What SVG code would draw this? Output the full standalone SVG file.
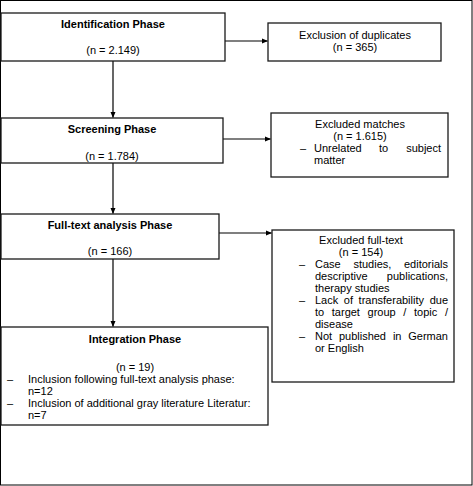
<svg xmlns="http://www.w3.org/2000/svg" width="473" height="486" viewBox="0 0 473 486">
<defs>
<marker id="ah" markerWidth="6" markerHeight="6" refX="5.5" refY="3" orient="auto" markerUnits="userSpaceOnUse">
<path d="M0,0.5 L6,3 L0,5.5 Z" fill="#000"/>
</marker>
<style>
.box{fill:#fff;stroke:#1a1a1a;stroke-width:1.3}
.t{font-family:"Liberation Sans",Arial,sans-serif;font-size:11px;fill:#000}
.b{font-weight:bold}
.c{text-anchor:middle}
.e{text-anchor:end}
.con{stroke:#000;stroke-width:1.2;fill:none;marker-end:url(#ah)}
</style>
</defs>
<rect x="0.5" y="0.5" width="471.5" height="484.5" fill="#fff" stroke="#000" stroke-width="1"/>
<g id="connectors">
<line class="con" x1="113" y1="61" x2="113" y2="117.5"/>
<line class="con" x1="113" y1="163" x2="113" y2="213.5"/>
<line class="con" x1="113" y1="259" x2="113" y2="326.5"/>
<line class="con" x1="225" y1="41" x2="267.5" y2="41"/>
<line class="con" x1="223" y1="139" x2="270.5" y2="139"/>
<line class="con" x1="219" y1="233" x2="271.5" y2="233"/>
</g>
<g id="identification">
<rect class="box" x="1" y="13" width="224" height="48"/>
<text class="t b c" x="113" y="28">Identification Phase</text>
<text class="t c" x="113" y="54">(n = 2.149)</text>
</g>
<g id="duplicates">
<rect class="box" x="268" y="23" width="173" height="38"/>
<text class="t c" x="355" y="39">Exclusion of duplicates</text>
<text class="t c" x="355" y="51">(n = 365)</text>
</g>
<g id="screening">
<rect class="box" x="1" y="118" width="222" height="45"/>
<text class="t b c" x="112" y="133">Screening Phase</text>
<text class="t c" x="112" y="160">(n = 1.784)</text>
</g>
<g id="excluded-matches">
<rect class="box" x="271" y="113" width="177" height="64"/>
<text class="t c" x="360" y="128">Excluded matches</text>
<text class="t c" x="360" y="140">(n = 1.615)</text>
<text class="t" x="300" y="152">–</text>
<text class="t" x="314" y="152">Unrelated</text>
<text class="t" x="379" y="152">to</text>
<text class="t e" x="441" y="152">subject</text>
<text class="t" x="314" y="164">matter</text>
</g>
<g id="fulltext">
<rect class="box" x="1" y="214" width="218" height="45"/>
<text class="t b c" x="110" y="229">Full-text analysis Phase</text>
<text class="t c" x="110" y="255">(n = 166)</text>
</g>
<g id="excluded-fulltext">
<rect class="box" x="272" y="230" width="182" height="152"/>
<text class="t c" x="361" y="244">Excluded full-text</text>
<text class="t c" x="361" y="256">(n = 154)</text>
<text class="t" x="299" y="268">–</text>
<text class="t" x="315" y="268">Case</text>
<text class="t" x="353.4" y="268">studies,</text>
<text class="t e" x="448" y="268">editorials</text>
<text class="t" x="315" y="280">descriptive</text>
<text class="t e" x="448" y="280">publications,</text>
<text class="t" x="315" y="292">therapy studies</text>
<text class="t" x="299" y="304">–</text>
<text class="t" x="315" y="304">Lack</text>
<text class="t" x="343.8" y="304">of</text>
<text class="t" x="358.6" y="304">transferability</text>
<text class="t e" x="448" y="304">due</text>
<text class="t" x="315" y="316">to</text>
<text class="t" x="331.8" y="316">target</text>
<text class="t" x="367.6" y="316">group</text>
<text class="t" x="403.3" y="316">/</text>
<text class="t" x="414" y="316">topic</text>
<text class="t e" x="448" y="316">/</text>
<text class="t" x="315" y="328">disease</text>
<text class="t" x="299" y="340">–</text>
<text class="t" x="315" y="340">Not</text>
<text class="t" x="338.9" y="340">published</text>
<text class="t" x="392.9" y="340">in</text>
<text class="t e" x="448" y="340">German</text>
<text class="t" x="315" y="352">or English</text>
</g>
<g id="integration">
<rect class="box" x="1" y="327" width="267" height="98"/>
<text class="t b c" x="135" y="343">Integration Phase</text>
<text class="t c" x="135" y="371">(n = 19)</text>
<text class="t" x="7" y="383">–</text>
<text class="t" x="28" y="383">Inclusion following full-text analysis phase:</text>
<text class="t" x="28" y="395">n=12</text>
<text class="t" x="7" y="407">–</text>
<text class="t" x="28" y="407">Inclusion of additional gray literature Literatur:</text>
<text class="t" x="28" y="419">n=7</text>
</g>
</svg>
